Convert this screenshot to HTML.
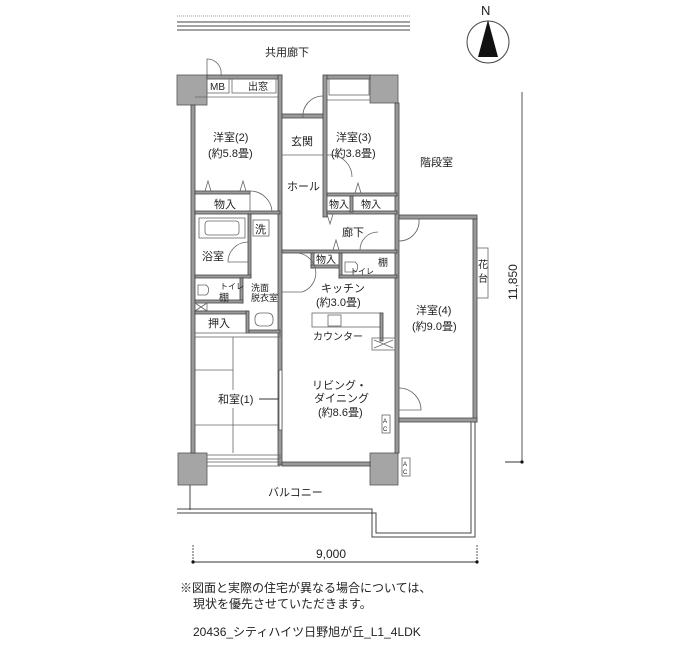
<!DOCTYPE html>
<html><head><meta charset="utf-8"><style>
body{margin:0;background:#fff}
svg{display:block}
text{font-family:"Liberation Sans","Noto Sans CJK JP",sans-serif;fill:#222}
.w{fill:#9a9a9a;stroke:#444;stroke-width:.8}
.c{fill:#a5a5a5;stroke:#555;stroke-width:.8}
.l{stroke:#444;stroke-width:1;fill:none}
.t{stroke:#666;stroke-width:.8;fill:none}
</style></head><body>
<svg width="700" height="650" viewBox="0 0 700 650" xmlns="http://www.w3.org/2000/svg">
<line x1="177" y1="16" x2="410" y2="16" stroke="#999" stroke-dasharray="1,1"/>
<line x1="177" y1="22" x2="410" y2="22" class="l"/>
<line x1="177" y1="26" x2="410" y2="26" class="l"/>
<line x1="177" y1="30" x2="410" y2="30" class="l"/>
<text x="265" y="56" font-size="11">共用廊下</text>
<text x="481" y="15" font-size="13">N</text>
<circle cx="488" cy="42" r="21" class="l"/>
<polygon points="488,20 478,57 498,57" fill="#111"/>

<rect x="177" y="75" width="30" height="30" class="c"/>
<rect x="370" y="75" width="28" height="28" class="c"/>
<rect x="178" y="453" width="29" height="32" class="c"/>
<rect x="370" y="453" width="28" height="32" class="c"/>

<rect x="191" y="105" width="4" height="348" class="w"/>
<rect x="207" y="75" width="75" height="4" class="w"/>
<rect x="278" y="75" width="4" height="390" class="w"/>
<rect x="282" y="114" width="41" height="4" class="w"/>
<rect x="323" y="75" width="4" height="142" class="w"/>
<rect x="327" y="75" width="43" height="4" class="w"/>
<rect x="395" y="103" width="4" height="350" class="w"/>
<rect x="399" y="215" width="78" height="4" class="w"/>
<rect x="473" y="219" width="4" height="203" class="w"/>
<rect x="399" y="418" width="78" height="4" class="w"/>
<rect x="282" y="462" width="88" height="4" class="w"/>
<rect x="207" y="79" width="22" height="14" class="t"/>
<text x="210" y="90" font-size="10">MB</text>
<rect x="232" y="79" width="44" height="14" class="t"/>
<text x="248" y="90" font-size="10">出窓</text>
<line x1="195" y1="97" x2="278" y2="97" class="t"/>
<path d="M207 75 v-16 a14 14 0 0 1 14 16" class="t"/>
<rect x="329" y="79" width="40" height="16" class="t"/>
<line x1="327" y1="100" x2="370" y2="100" class="t"/>
<path d="M323 118 h-20 a20 20 0 0 1 20 -22" class="t"/>
<line x1="282" y1="155" x2="323" y2="155" class="t"/>
<rect x="195" y="191" width="55" height="3" class="w"/>
<rect x="195" y="211" width="85" height="3" class="w"/>
<path d="M205 191 l3 -10 l3 10 M240 191 l3 -10 l3 10" class="t"/>
<path d="M250 211 v-20 a22 22 0 0 1 22 20" class="t"/>
<rect x="248" y="214" width="3" height="64" class="w"/>
<rect x="199" y="218" width="46" height="20" class="t"/>
<rect x="205" y="221" width="34" height="14" rx="3" class="t"/>
<rect x="195" y="275" width="56" height="3" class="w"/>
<path d="M248 262 h-20 a20 20 0 0 1 20 -20" class="t"/>
<rect x="253" y="220" width="16" height="16" class="t"/>
<text x="255" y="233" font-size="11">洗</text>
<rect x="240" y="278" width="3" height="25" class="w"/>
<rect x="195" y="300" width="48" height="3" class="w"/>
<rect x="195" y="303" width="12" height="8" class="t"/>
<path d="M195 303 l12 8 M207 303 l-12 8" class="t"/>
<rect x="195" y="311" width="53" height="3" class="w"/>
<rect x="246" y="311" width="3" height="22" class="w"/>
<rect x="249" y="330" width="31" height="3" class="w"/>
<path d="M198 285 h8 a6 6 0 0 1 0 10 h-8 z" class="t"/>
<rect x="255" y="313" width="18" height="13" rx="5" class="t"/>
<rect x="195" y="333" width="85" height="4" class="t"/>
<line x1="233" y1="337" x2="233" y2="390" class="t"/>
<line x1="233" y1="408" x2="233" y2="453" class="t"/>
<line x1="195" y1="370" x2="233" y2="370" class="t"/>
<line x1="195" y1="425" x2="278" y2="425" class="t"/>
<line x1="259" y1="399" x2="280" y2="399" stroke="#333"/>
<rect x="279" y="370" width="3" height="60" fill="#fff" stroke="#555" stroke-width=".8"/>
<rect x="207" y="455" width="73" height="4" class="t"/>
<rect x="207" y="462" width="73" height="4" class="t"/>
<rect x="327" y="193" width="70" height="3" class="w"/>
<rect x="327" y="211" width="70" height="3" class="w"/>
<rect x="350" y="196" width="3" height="16" class="w"/>
<path d="M327 155 h5 a22 22 0 0 1 20 22" class="t"/>
<path d="M355 193 l3 -10 l3 10" class="t"/>
<path d="M327 214 l3 10 l3 -10" class="t"/>
<rect x="282" y="250" width="115" height="3" class="w"/>
<rect x="311" y="253" width="3" height="15" class="w"/>
<rect x="311" y="265" width="30" height="3" class="w"/>
<rect x="339" y="253" width="3" height="25" class="w"/>
<rect x="339" y="275" width="58" height="3" class="w"/>
<path d="M345 262 h10 a6 6 0 0 1 0 10 h-10 z" class="t"/>
<path d="M282 292 h20 a20 20 0 0 0 -7 -39" class="t"/>
<path d="M378 250 h-18 a18 18 0 0 1 18 -18" class="t"/>
<path d="M333 250 l3 -10 l3 10" class="t"/>
<path d="M399 219 h20 a20 20 0 0 1 -20 22" class="t"/>
<rect x="312" y="313" width="70" height="14" class="t"/>
<rect x="328" y="315" width="13" height="11" class="t"/>
<rect x="380" y="313" width="3" height="28" class="w"/>
<rect x="372" y="338" width="23" height="12" class="t"/>
<path d="M374 340 l19 8 M393 340 l-19 8" class="t"/>
<path d="M399 388 a22 22 0 0 1 22 22 h-22" class="t"/>
<rect x="477" y="248" width="11" height="50" class="t"/>
<text x="478" y="268" font-size="10">花</text>
<text x="478" y="282" font-size="10">台</text>
<rect x="382" y="415" width="8" height="18" class="t"/>
<text x="383" y="423" font-size="6">A</text><text x="383" y="431" font-size="6">C</text>
<rect x="402" y="458" width="8" height="18" class="t"/>
<text x="403" y="466" font-size="6">A</text><text x="403" y="474" font-size="6">C</text>
<path d="M177 509 H372 V537 H475 V422" class="l"/>
<path d="M177 513 H376 V533 H471 V422" class="l"/>
<line x1="190" y1="485" x2="190" y2="510" class="l"/>
<line x1="522" y1="92" x2="522" y2="462" stroke="#555"/>
<line x1="505" y1="462" x2="522" y2="462" stroke="#333"/>
<circle cx="522" cy="462" r="1.6" fill="#111"/>
<text font-size="12" transform="translate(517,300) rotate(-90)">11,850</text>
<line x1="193" y1="562" x2="477" y2="562" stroke="#333"/>
<line x1="193" y1="545" x2="193" y2="562" stroke="#555" stroke-dasharray="2,1"/>
<line x1="477" y1="545" x2="477" y2="562" stroke="#555" stroke-dasharray="2,1"/>
<circle cx="193" cy="562" r="1.6" fill="#111"/><circle cx="477" cy="562" r="1.6" fill="#111"/>
<text x="316" y="558" font-size="12">9,000</text>
<g font-size="11">
<text x="213" y="141">洋室(2)</text>
<text x="208" y="157">(約5.8畳)</text>
<text x="291" y="145">玄関</text>
<text x="336" y="141">洋室(3)</text>
<text x="331" y="157">(約3.8畳)</text>
<text x="420" y="166">階段室</text>
<text x="287" y="190">ホール</text>
<text x="214" y="208">物入</text>
<text x="329" y="208" font-size="10">物入</text>
<text x="361" y="208" font-size="10">物入</text>
<text x="342" y="236">廊下</text>
<text x="202" y="260">浴室</text>
<text x="316" y="263" font-size="10">物入</text>
<text x="350" y="274" font-size="8">トイレ</text>
<text x="378" y="266" font-size="10">棚</text>
<text x="220" y="289" font-size="8">トイレ</text>
<text x="219" y="301" font-size="10">棚</text>
<text x="251" y="291" font-size="9">洗面</text>
<text x="251" y="301" font-size="9">脱衣室</text>
<text x="321" y="292">キッチン</text>
<text x="316" y="306">(約3.0畳)</text>
<text x="208" y="327">押入</text>
<text x="313" y="340" font-size="10">カウンター</text>
<text x="416" y="314">洋室(4)</text>
<text x="412" y="330">(約9.0畳)</text>
<text x="312" y="389">リビング・</text>
<text x="314" y="402">ダイニング</text>
<text x="318" y="416">(約8.6畳)</text>
<text x="218" y="403">和室(1)</text>
<text x="268" y="496">バルコニー</text>
</g>
<g font-size="12">
<text x="180" y="592">※図面と実際の住宅が異なる場合については、</text>
<text x="193" y="608">現状を優先させていただきます。</text>
<text x="193" y="636">20436_シティハイツ日野旭が丘_L1_4LDK</text>
</g>
</svg>
</body></html>
